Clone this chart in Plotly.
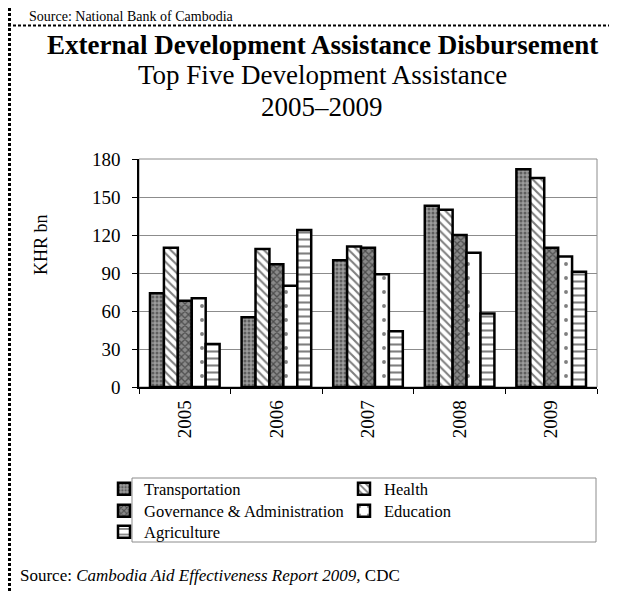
import plotly.graph_objects as go

years = ["2005", "2006", "2007", "2008", "2009"]
transportation = [74, 55, 100, 143, 172]
health = [110, 109, 111, 140, 165]
governance = [68, 97, 110, 120, 110]
education = [70, 80, 89, 106, 103]
agriculture = [34, 124, 44, 58, 91]

W, H = 617, 593
L, R, T, B = 131, 589, 151, 379  # plot area in pixels

def px(x):
    return (x - L) / (R - L)

def py(y):
    return (B - y) / (B - T)

FONT = "Liberation Serif"

# name, values, pattern, legend id, legend column, legend row
series = [
    ("Transportation", transportation, dict(shape=".", bgcolor="#9c9c9c", fgcolor="#222222", size=4, solidity=0.45), "legend", 0, 0),
    ("Health", health, dict(shape="\\", bgcolor="white", fgcolor="black", size=6, solidity=0.35), "legend2", 1, 0),
    ("Governance & Administration", governance, dict(shape="x", bgcolor="#8a8a8a", fgcolor="#111111", size=5, solidity=0.45), "legend3", 0, 1),
    ("Education", education, dict(shape=".", bgcolor="white", fgcolor="black", size=14, solidity=0.06), "legend4", 1, 1),
    ("Agriculture", agriculture, dict(shape="-", bgcolor="white", fgcolor="black", size=7, solidity=0.3), "legend5", 0, 2),
]

fig = go.Figure()
for name, vals, pat, lg, _c, _r in series:
    fig.add_trace(go.Bar(
        x=years, y=vals, name=name, legend=lg,
        marker=dict(color=pat["bgcolor"], line=dict(color="black", width=2.5), pattern=pat),
    ))

LEG_FONT = dict(size=16.5, family=FONT, color="black")
col_x = [96, 336]
row_y = [481, 503, 524]
leg_layout = {}
for name, vals, pat, lg, c, r in series:
    leg_layout[lg] = dict(x=px(col_x[c]), y=py(row_y[r]), xanchor="left", yanchor="middle",
                          bgcolor="rgba(0,0,0,0)", borderwidth=0, font=LEG_FONT,
                          itemwidth=30)

fig.update_layout(
    width=W, height=H,
    margin=dict(l=L, r=W - R, t=T, b=H - B),
    paper_bgcolor="white", plot_bgcolor="white",
    font=dict(family=FONT, size=18, color="black"),
    barmode="group", bargap=0.24, bargroupgap=0,
    showlegend=True,
    **leg_layout,
)

fig.update_xaxes(
    type="category", showline=True, linecolor="black", linewidth=1.5,
    ticks="outside", tickson="boundaries", ticklen=5, tickcolor="black",
    tickangle=-90, tickfont=dict(size=19, family=FONT), showgrid=False,
    ticklabelstandoff=4,
)
fig.update_yaxes(
    range=[0, 180], tickvals=[0, 30, 60, 90, 120, 150, 180],
    showline=True, linecolor="black", linewidth=1.5,
    ticks="outside", ticklen=5, tickcolor="black",
    showgrid=True, gridcolor="#8c8c8c", gridwidth=1,
    tickfont=dict(size=19, family=FONT), zeroline=False,
    ticklabelstandoff=8,
)

shapes = [
    # plot frame (top / right)
    dict(type="rect", xref="paper", yref="paper", x0=0, x1=1, y0=0, y1=1,
         line=dict(color="#8c8c8c", width=1), layer="below"),
    # legend border
    dict(type="rect", xref="paper", yref="paper", x0=px(124), x1=px(588), y0=py(470), y1=py(534),
         line=dict(color="#8c8c8c", width=1)),
    # dashed page borders
    dict(type="line", xref="paper", yref="paper", x0=px(0), x1=px(617), y0=py(17.5), y1=py(17.5),
         line=dict(color="black", width=2, dash="3px,2px")),
    dict(type="line", xref="paper", yref="paper", x0=px(1.5), x1=px(1.5), y0=py(0), y1=py(593),
         line=dict(color="black", width=3, dash="3px,2px")),
]
fig.update_layout(shapes=shapes)

ann = [
    dict(text="Source: National Bank of Cambodia", x=px(19), y=py(-1.5), xanchor="left", yanchor="top",
         font=dict(size=14, family=FONT)),
    dict(text="<b>External Development Assistance Disbursement</b>", x=px(314), y=py(37),
         xanchor="center", yanchor="middle", font=dict(size=27, family=FONT)),
    dict(text="Top Five Development Assistance", x=px(314), y=py(67),
         xanchor="center", yanchor="middle", font=dict(size=27, family=FONT)),
    dict(text="2005–2009", x=px(314), y=py(99),
         xanchor="center", yanchor="middle", font=dict(size=27, family=FONT)),
    dict(text="KHR bn", x=px(33), y=py(237), xanchor="center", yanchor="middle",
         textangle=-90, font=dict(size=18, family=FONT)),
    dict(text="Source: <i>Cambodia Aid Effectiveness Report 2009,</i> CDC", x=px(10), y=py(567),
         xanchor="left", yanchor="middle", font=dict(size=17, family=FONT)),
]
for a in ann:
    a.update(xref="paper", yref="paper", showarrow=False)
fig.update_layout(annotations=ann)

fig.write_html("out.html")
